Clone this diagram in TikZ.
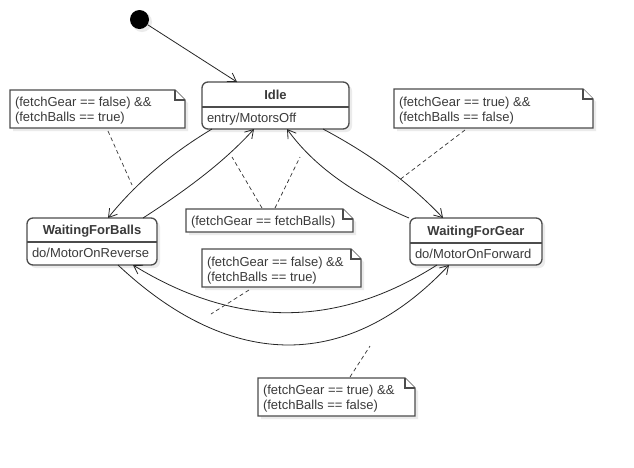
\documentclass[tikz,border=0pt]{standalone}
\usepackage{fontspec}
\setmainfont{Liberation Sans}
\usetikzlibrary{arrows.meta,calc}
\definecolor{textgray}{HTML}{3A3A3A}
\definecolor{boxline}{HTML}{4C4C4C}
\definecolor{shadowc}{HTML}{EBEBEB}
\newcommand\umlnote[5]{%
  \node[noteshape, minimum width={#4-#2}, minimum height={#5-#3}] (#1) at ({(#2+#4)/2},{(#3+#5)/2}) {};
  \fill[shadowc] ($(#1.north west)+(3,3)$) -- ($(#1.north east)+(-7,3)$) -- ($(#1.north east)+(3,13)$) -- ($(#1.south east)+(3,3)$) -- ($(#1.south west)+(3,3)$) -- cycle;
  \filldraw[notebox] (#1.north west) -- ($(#1.north east)+(-10,0)$) -- ($(#1.north east)+(0,10)$) -- (#1.south east) -- (#1.south west) -- cycle;
  \draw[notebox] ($(#1.north east)+(-10,0)$) -- ($(#1.north east)+(-10,10)$) -- ($(#1.north east)+(0,10)$);
}
\begin{document}
\begin{tikzpicture}[x=1pt,y=-1pt,
  txt/.style={inner sep=0pt, outer sep=0pt, text=textgray, font=\fontsize{13}{15}\selectfont},
  ttl/.style={txt, font=\fontsize{13}{15}\selectfont\bfseries, anchor=base},
  notetxt/.style={txt, anchor=north west, align=left},
  statebox/.style={draw=boxline, line width=1.3pt, fill=white, rounded corners=6pt, inner sep=0pt, outer sep=0pt},
  noteshape/.style={inner sep=0pt, outer sep=0pt},
  notebox/.style={draw=boxline, line width=1.3pt, fill=white},
  conn/.style={draw=black!85, line width=0.8pt, -{Straight Barb[length=8pt,width=10pt]}},
  connplain/.style={draw=black!85, line width=0.8pt},
  dashline/.style={draw=black!80, line width=0.7pt, dash pattern=on 4pt off 3pt},
]
\useasboundingbox[fill=white] (0,0) rectangle (634,467);

% initial pseudo-state
\fill[shadowc] (142,22) circle (10);
\node[circle, fill=black, minimum size=19pt, inner sep=0pt, outer sep=0pt] (init) at (139.5,19.5) {};

% states
\fill[shadowc, rounded corners=6pt] (205,85) rectangle (352,132);
\node[statebox, minimum width=147pt, minimum height=47pt] (idle) at (275.5,105.5) {};
\draw[boxline, line width=1.3pt] ($(idle.west)+(0,1.5)$) -- ($(idle.east)+(0,1.5)$);
\node[ttl] (idlet) at (275.5,99.5) {Idle};
\node[txt, anchor=base west] (idlee) at (207,122) {entry/MotorsOff};

\fill[shadowc, rounded corners=6pt] (30,221) rectangle (160,268);
\node[statebox, minimum width=130pt, minimum height=47pt] (wfb) at (92,241.5) {};
\draw[boxline, line width=1.3pt] ($(wfb.west)+(0,0.5)$) -- ($(wfb.east)+(0,0.5)$);
\node[ttl] (wfbt) at (92,234.5) {WaitingForBalls};
\node[txt, anchor=base west] (wfbd) at (32,257.5) {do/MotorOnReverse};

\fill[shadowc, rounded corners=6pt] (413,221) rectangle (545,268);
\node[statebox, minimum width=132pt, minimum height=47pt] (wfg) at (476,241.5) {};
\draw[boxline, line width=1.3pt] ($(wfg.west)+(0,1.5)$) -- ($(wfg.east)+(0,1.5)$);
\node[ttl] (wfgt) at (476,235) {WaitingForGear};
\node[txt, anchor=base west] (wfgd) at (415,258) {do/MotorOnForward};

% notes
\umlnote{n1}{10}{90}{185}{128}
\node[notetxt] (n1t) at (15,96) {\strut(fetchGear == false) \&\&\\\strut(fetchBalls == true)};
\umlnote{nr}{394}{89}{593}{128}
\node[notetxt] (nrt) at (399,96) {\strut(fetchGear == true) \&\&\\\strut(fetchBalls == false)};
\umlnote{neq}{186}{209}{353}{232}
\node[notetxt] (neqt) at (191,215) {\strut(fetchGear == fetchBalls)};
\umlnote{nmid}{202}{249}{361}{287}
\node[notetxt] (nmidt) at (207,255.5) {\strut(fetchGear == false) \&\&\\\strut(fetchBalls == true)};
\umlnote{nb}{258}{378}{415}{416}
\node[notetxt] (nbt) at (263,384) {\strut(fetchGear == true) \&\&\\\strut(fetchBalls == false)};

% transitions
\draw[conn] (init) -- ($(idle.north west)+(35,0)$);
\draw[conn] ($(idle.south west)+(10,0)$) .. controls (172,153) and (137,182) .. ($(wfb.north west)+(81,0)$);
\draw[conn] ($(wfb.north west)+(116,0)$) .. controls (188,189) and (225,161) .. ($(idle.south west)+(52,0)$);
\draw[conn] ($(idle.south west)+(121,0)$) .. controls (370,154) and (410,183) .. ($(wfg.north west)+(33,0)$);
\draw[conn] ($(wfg.north west)+(-1,0)$) .. controls (353.6,194.5) and (313.3,165.5) .. ($(idle.south west)+(85,0)$);
\draw[conn] ($(wfg.south west)+(27,0)$) .. controls (338,328) and (237,329) .. ($(wfb.south west)+(106,0)$);
\draw[conn] ($(wfb.south west)+(91,0)$) .. controls (233,373) and (350,370) .. ($(wfg.south west)+(39,0)$);

% anchors of the note links on the transitions
\coordinate (c1) at (132,185);
\coordinate (c2) at (232,157);
\coordinate (c3) at (300,157);
\coordinate (c4) at (398,181);
\coordinate (c5) at (211,314);
\coordinate (c6) at (370,346);

\draw[dashline] ($(n1.south west)+(98,3)$) -- (c1);
\draw[dashline] ($(neq.north west)+(76,-1)$) -- (c2);
\draw[dashline] ($(neq.north west)+(89,-1)$) -- (c3);
\draw[dashline] ($(nr.south west)+(71,2)$) -- (c4);
\draw[dashline] ($(nmid.south west)+(47,3)$) -- (c5);
\draw[dashline] ($(nb.north west)+(92,-1)$) -- (c6);
\end{tikzpicture}
\end{document}
